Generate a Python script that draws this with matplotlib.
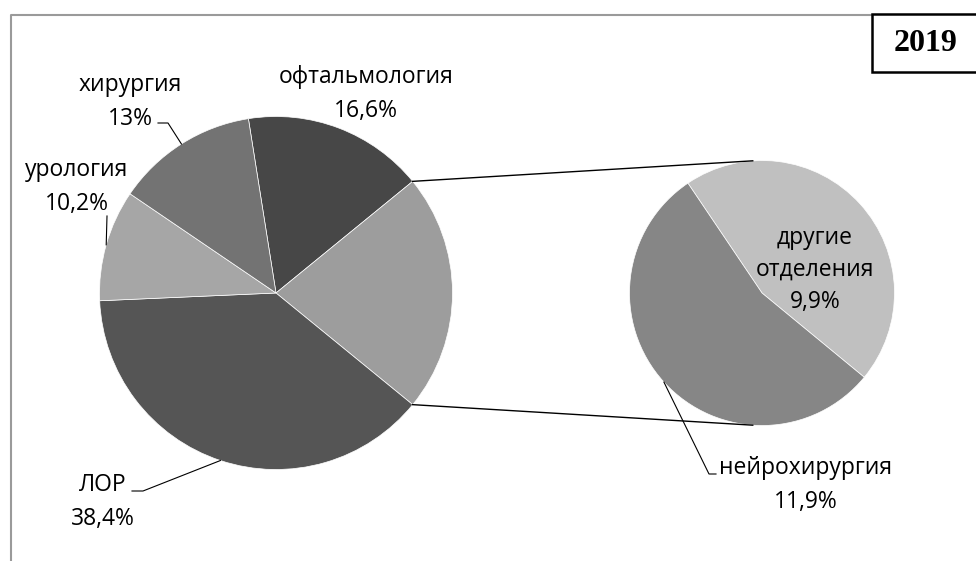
import numpy as np
import matplotlib
matplotlib.use('Agg')
import matplotlib.pyplot as plt
from matplotlib.patches import Rectangle

plt.rcParams['font.family'] = ['Open Sans', 'DejaVu Sans']

# main pie: departments, last slice is split into the second pie
main_names = ['офтальмология', 'другие', 'ЛОР', 'урология', 'хирургия']
main_vals = [16.6, 21.8, 38.4, 10.2, 13.0]
main_cols = ['#474747', '#9d9d9d', '#555555', '#a6a6a6', '#737373']

sub_names = ['другие\nотделения', 'нейрохирургия']
sub_vals = [9.9, 11.9]
sub_cols = ['#c0c0c0', '#868686']

W, H = 976, 561
fig = plt.figure(figsize=(W / 100, H / 100), dpi=100)
ax = fig.add_axes([0, 0, 1, 1])

def P(x, y):
    # pixel position (top-left origin) -> data coords
    return x, H - y

c1, r1 = P(276, 293), 176.5
c2, r2 = P(762, 293), 132.5
start1 = 99.0
start2 = 124.0

ax.pie(main_vals, colors=main_cols, startangle=start1, counterclock=False,
       center=c1, radius=r1, wedgeprops=dict(edgecolor='white', linewidth=0.5))
ax.pie(sub_vals, colors=sub_cols, startangle=start2, counterclock=False,
       center=c2, radius=r2, wedgeprops=dict(edgecolor='white', linewidth=0.5))

def edge_pt(vals, i, start, c, r, frac=0.5):
    tot = sum(vals)
    a = start - 360.0 * (sum(vals[:i]) + vals[i] * frac) / tot
    a = np.radians(a)
    return c[0] + r * np.cos(a), c[1] + r * np.sin(a)

# connector lines between the two pies
for frac, ang in [(0.0, 94), (1.0, -94)]:
    p1 = edge_pt(main_vals, 1, start1, c1, r1, frac)
    a = np.radians(ang)
    p2 = (c2[0] + r2 * np.cos(a), c2[1] + r2 * np.sin(a))
    ax.plot([p1[0], p2[0]], [p1[1], p2[1]], color='black', lw=1.0)

def fmt(v):
    return ('%g' % v).replace('.', ',') + '%'

fs = 16.5
lab = dict(ha='center', va='center', ma='center', fontsize=fs, linespacing=1.55,
           color='black')

ax.text(*P(366, 94), main_names[0] + '\n' + fmt(main_vals[0]), **lab)
ax.text(*P(130, 102), main_names[4] + '\n' + fmt(main_vals[4]), **lab)
ax.text(*P(77, 187), main_names[3] + '\n' + fmt(main_vals[3]), **lab)
ax.text(*P(103, 502), main_names[2] + '\n' + fmt(main_vals[2]), **lab)
ax.text(*P(806, 485), sub_names[1] + '\n' + fmt(sub_vals[1]), **lab)
ax.text(*P(815, 270), sub_names[0] + '\n' + fmt(sub_vals[0]),
        **dict(lab, linespacing=1.45))

# leader lines
def leader(pts, tip):
    xs = [p[0] for p in pts] + [tip[0]]
    ys = [p[1] for p in pts] + [tip[1]]
    ax.plot(xs, ys, color='black', lw=0.8)

leader([P(158, 123), P(168, 123)], edge_pt(main_vals, 4, start1, c1, r1))
leader([P(107, 216)], edge_pt(main_vals, 3, start1, c1, r1))
leader([P(132, 491), P(143, 491)], edge_pt(main_vals, 2, start1, c1, r1))
leader([P(716, 474), P(709, 474)], edge_pt(sub_vals, 1, start2, c2, r2))

# outer frame
ax.plot([10.5, 10.5, W + 5], [-5, H - 14.5, H - 14.5], color='#9a9a9a', lw=1.5)

# year box
ax.add_patch(Rectangle((872, H - 72), 120, 58, facecolor='white',
                       edgecolor='black', lw=1.8, zorder=5))
ax.text(926, H - 43, '2019', ha='center', va='center', fontsize=23,
        fontweight='bold', family='Liberation Serif', zorder=6)

ax.set_xlim(0, W)
ax.set_ylim(0, H)
ax.set_aspect('equal')
ax.set_axis_off()

fig.savefig('out.png', dpi=100, facecolor='white')
